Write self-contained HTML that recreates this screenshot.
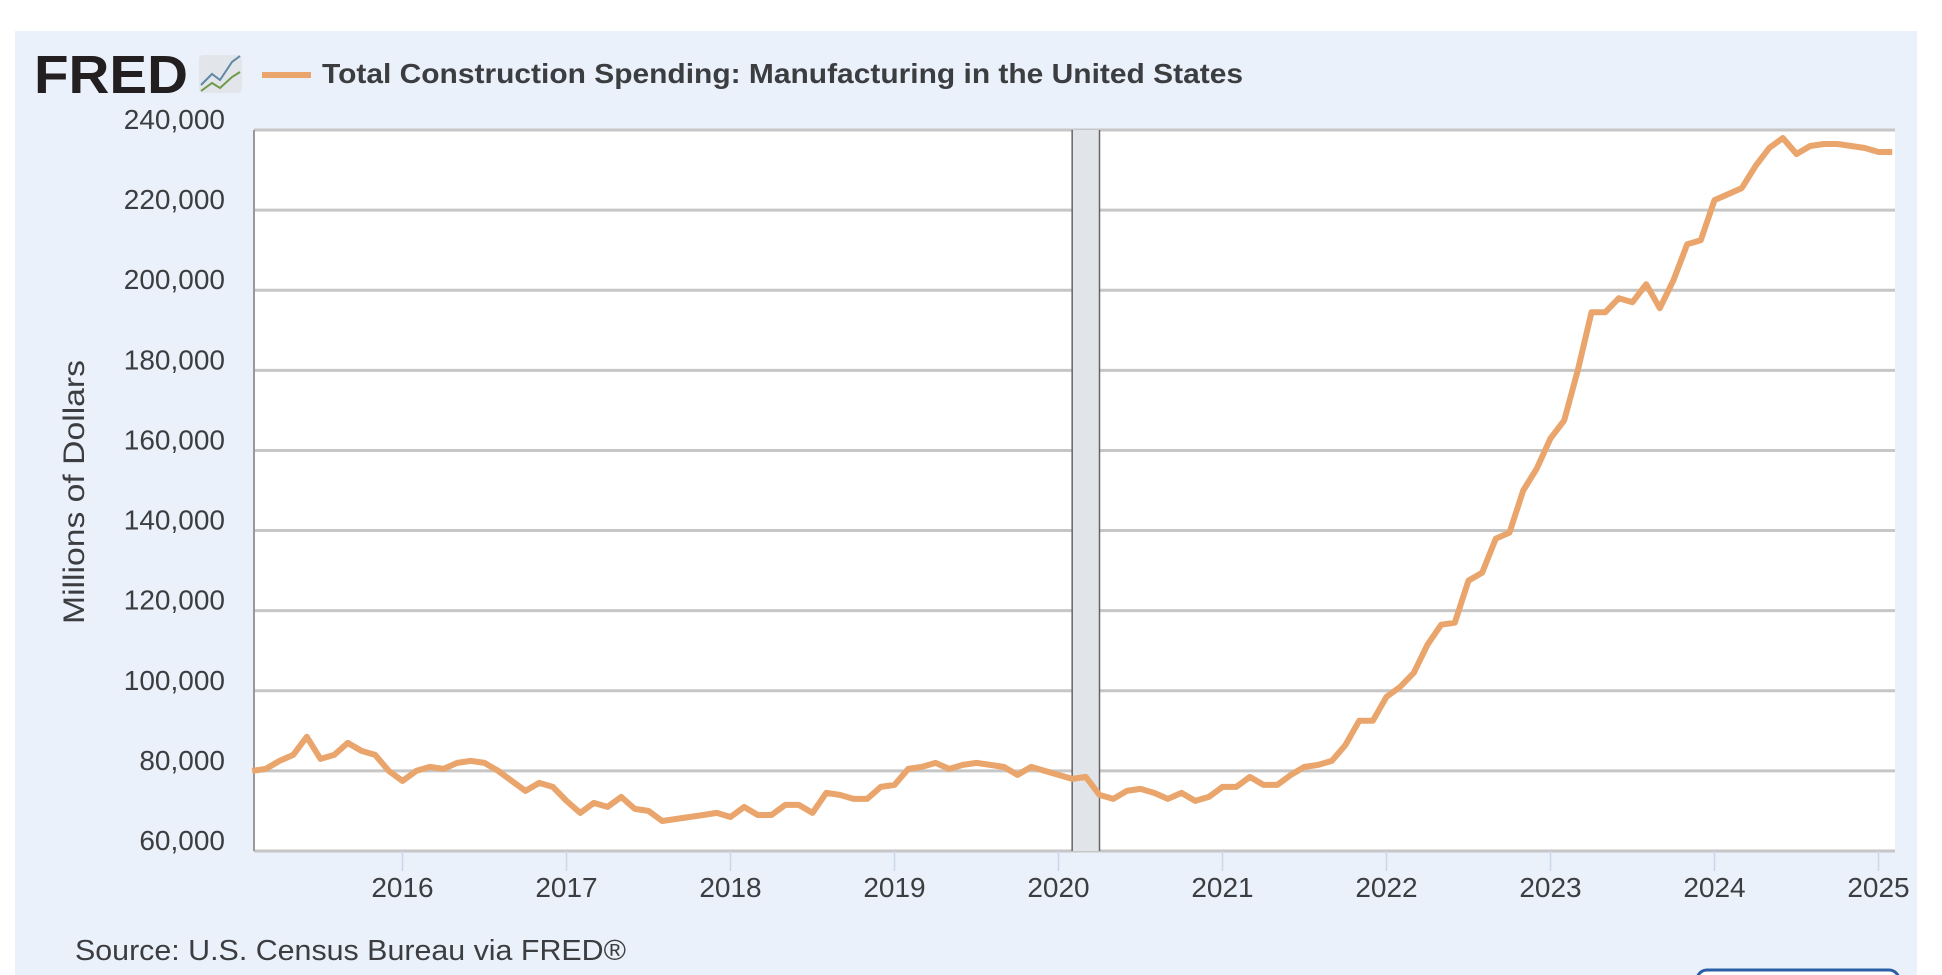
<!DOCTYPE html>
<html><head><meta charset="utf-8"><style>
html,body{margin:0;padding:0;background:#fff;width:1942px;height:975px;overflow:hidden;font-family:"Liberation Sans",sans-serif}
</style></head><body>
<svg id="chart" width="1942" height="975" xmlns="http://www.w3.org/2000/svg">
<rect x="15" y="31" width="1902" height="960" fill="#eaf1fa"/>
<text x="34" y="93" font-size="54" font-weight="bold" fill="#231f20" textLength="154" lengthAdjust="spacingAndGlyphs" font-family="Liberation Sans, sans-serif">FRED</text>
<rect x="199" y="55" width="43" height="38" rx="4" fill="#e2e6ea"/>
<polyline points="201,85 212,74 220,80 232,62 240,56" fill="none" stroke="#5f87a6" stroke-width="2"/>
<polyline points="201,91 212,83 220,88 232,77 240,72" fill="none" stroke="#6f9a4a" stroke-width="2"/>
<line x1="262" y1="75" x2="311" y2="75" stroke="#e9a56b" stroke-width="6"/>
<text x="322" y="83" font-size="28" font-weight="bold" fill="#3c3d40" textLength="921" lengthAdjust="spacingAndGlyphs">Total Construction Spending: Manufacturing in the United States</text>
<rect x="254" y="130" width="1641" height="721" fill="#fff"/>
<g id="grid"></g>
<g id="recession"></g>
<line x1="254" y1="130" x2="254" y2="851" stroke="#999" stroke-width="2"/>
<g id="xaxis"></g>
<g id="series"></g>
<text transform="translate(84,492) rotate(-90)" text-anchor="middle" font-size="30" fill="#3c3d40" textLength="264" lengthAdjust="spacingAndGlyphs">Millions of Dollars</text>
<text x="75" y="960" font-size="29" fill="#3c3d40" textLength="551" lengthAdjust="spacingAndGlyphs">Source: U.S. Census Bureau via FRED®</text>
<rect x="1697" y="970" width="202" height="30" rx="10" fill="#fff" stroke="#2a5ea8" stroke-width="3"/>
</svg>
<script>
const yTicks=[60000,80000,100000,120000,140000,160000,180000,200000,220000,240000];
const xYears=[2016,2017,2018,2019,2020,2021,2022,2023,2024,2025];
const startYear=2015, startMonth=1; // Feb 2015 (0-based month)
const values=[80,80.5,82.5,84,88.5,83,84,87,85,84,80,
77.5,80,81,80.5,82,82.5,82,80,77.5,75,77,76,
72.5,69.5,72,71,73.5,70.5,70,67.5,68,68.5,69,69.5,
68.5,71,69,69,71.5,71.5,69.5,74.5,74,73,73,76,
76.5,80.5,81,82,80.5,81.5,82,81.5,81,79,81,80,
79,78,78.5,74,73,75,75.5,74.5,73,74.5,72.5,73.5,
76,76,78.5,76.5,76.5,79,81,81.5,82.5,86.5,92.5,92.5,
98.5,101,104.5,111.5,116.5,117,127.5,129.5,138,139.5,150,155.5,
163,167.5,180,194.5,194.5,198,197,201.5,195.5,202.5,211.5,212.5,
222.5,224,225.5,231,235.5,238,234,236,236.5,236.5,236,235.5,
234.5,234.5];
const recession=[2020+1/12,2020+3/12];
const NS="http://www.w3.org/2000/svg";
const L=254,R=1895,T=130,B=851;
const x0=2016, px0=402.5, pxPerYear=164.0;
function xs(t){return px0+(t-x0)*pxPerYear;}
function ys(v){return B-(v-60000)/(240000-60000)*(B-T);}
function mk(tag,a,p){const e=document.createElementNS(NS,tag);for(const k in a)e.setAttribute(k,a[k]);p.appendChild(e);return e;}
const grid=document.getElementById('grid');
yTicks.forEach(v=>{
  const l=mk('line',{x1:L,x2:R,y1:ys(v),y2:ys(v),stroke:'#c6c6c6','stroke-width':3},grid);
  
  
  const t=mk('text',{x:225,y:ys(v)-1,'text-anchor':'end','font-size':28,fill:'#3c3d40'},grid);
  t.textContent=v.toLocaleString('en-US');
  
  
});
const rec=document.getElementById('recession');
const rr=mk('rect',{x:xs(recession[0]),y:T,width:xs(recession[1])-xs(recession[0]),height:B-T,fill:'#e1e5ea'},rec);


[recession[0],recession[1]].forEach(r=>{
  const e=mk('line',{x1:xs(r),x2:xs(r),y1:T,y2:B,stroke:'#666','stroke-width':1.5},rec);
  
  
});
const xa=document.getElementById('xaxis');
xYears.forEach(y=>{
  const tk=mk('line',{x1:xs(y),x2:xs(y),y1:B,y2:B+20,stroke:'#ccd6eb','stroke-width':1.5},xa);
  
  
  const t=mk('text',{x:xs(y),y:B+46,'text-anchor':'middle','font-size':28,fill:'#3c3d40'},xa);
  t.textContent=y;
  
  
});
const pts=values.map((v,i)=>{const t=startYear+(startMonth+i)/12;return xs(t).toFixed(1)+','+ys(v*1000).toFixed(1);});
const line=mk('polyline',{points:pts.join(' '),fill:'none',stroke:'#e9a56b','stroke-width':6,'stroke-linejoin':'round'},document.getElementById('series'));


</script>
</body></html>
